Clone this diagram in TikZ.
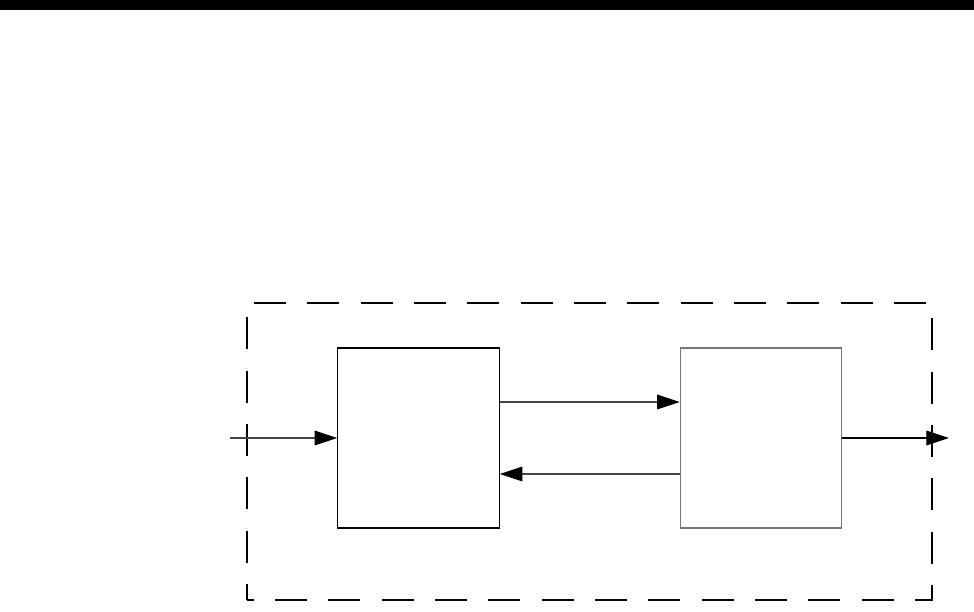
\documentclass[tikz,border=0pt]{standalone}
\usetikzlibrary{arrows.meta, calc}
\definecolor{linegrey}{HTML}{444444}
\definecolor{edgegrey}{HTML}{777777}
\tikzset{
  block/.style={draw, line width=0.9pt, minimum width=121pt, minimum height=135pt, inner sep=0pt},
  flow/.style={-{Triangle[length=17pt, width=11pt, color=black]}, line width=0.8pt, color=linegrey},
  frame/.style={line width=1.1pt, dash pattern=on 24pt off 16pt, dash phase=12pt}
}

\begin{document}
\begin{tikzpicture}[x=0.75pt, y=0.75pt]
\useasboundingbox (0,0) rectangle (974,611);
\fill[black] (0,601) rectangle (974,611);
\draw[frame] (247,11) rectangle (932,308);
\node[block] (ctrl) at (418.5,173) {};
\node[block, draw=edgegrey] (plant) at (761,173) {};
\coordinate (in) at (230,173);
\coordinate (out) at (949,173);
\draw[flow] (in) -- (ctrl.west);
\draw[flow] ($(ctrl.east)+(0,36)$) -- ($(plant.west)+(0,36)$);
\draw[flow] ($(plant.west)+(0,-36)$) -- ($(ctrl.east)+(0,-36)$);
\draw[flow, color=black] (plant.east) -- (out);
\end{tikzpicture}
\end{document}
